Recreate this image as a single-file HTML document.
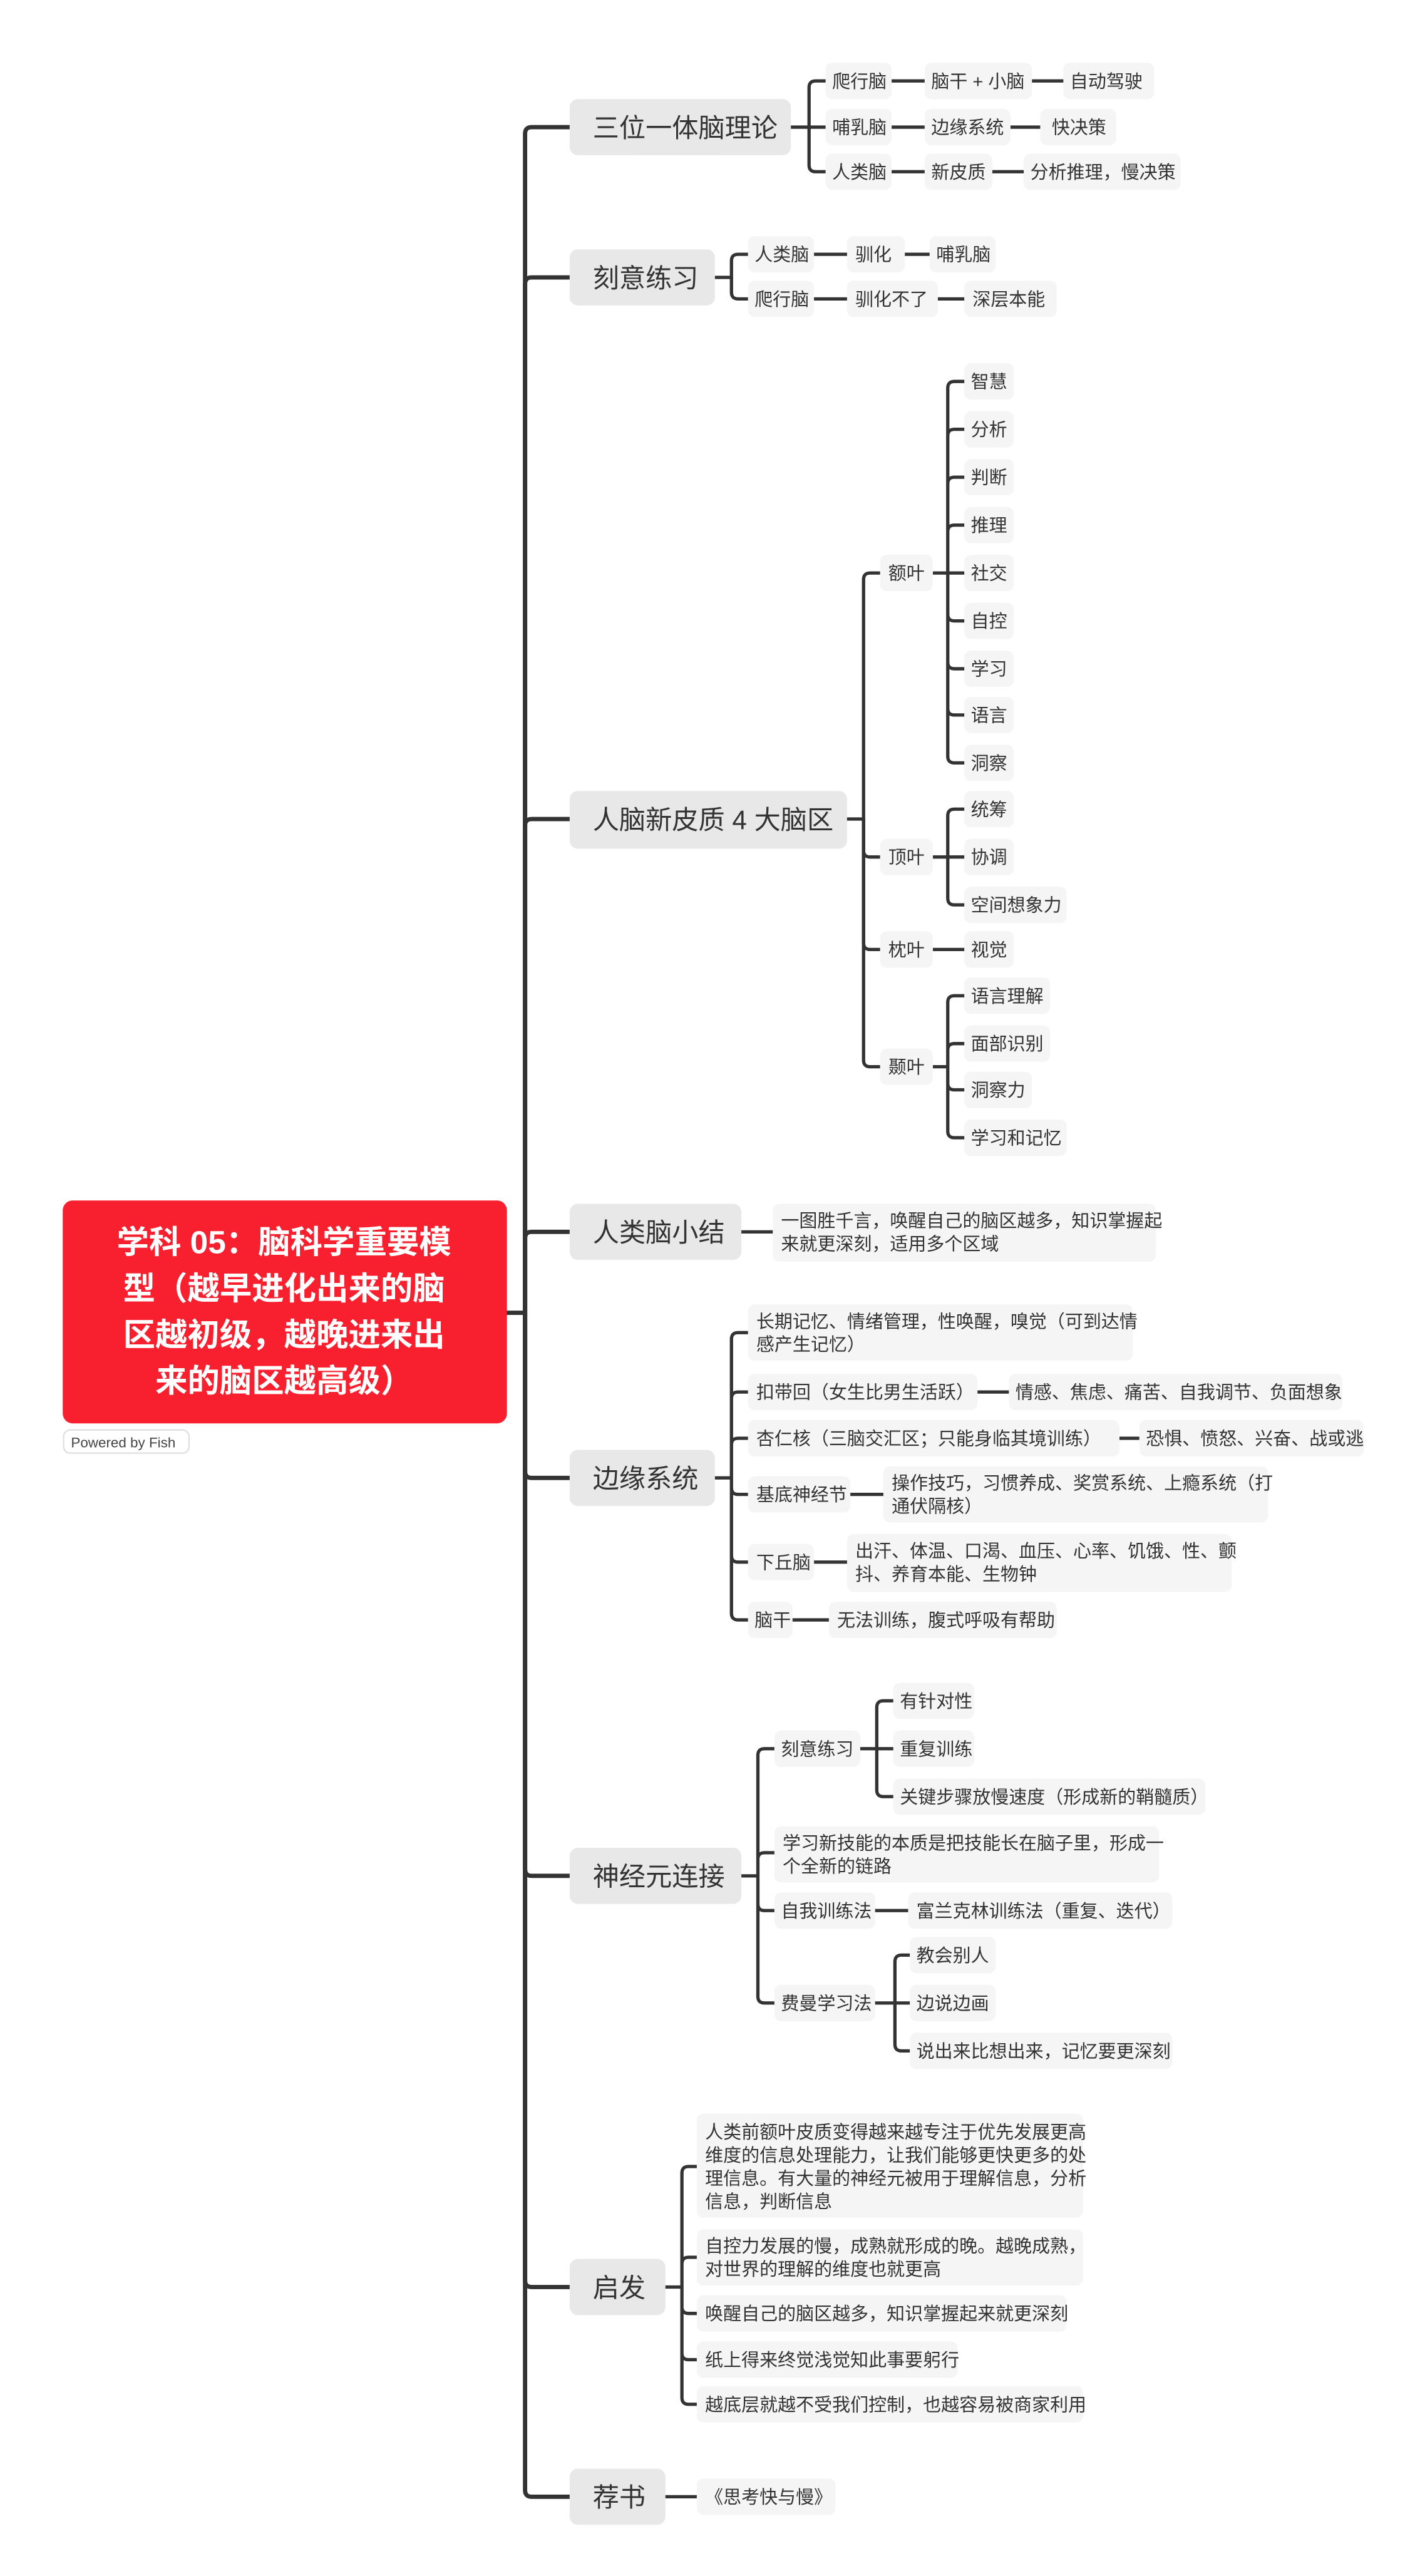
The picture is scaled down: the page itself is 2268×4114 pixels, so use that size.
<!DOCTYPE html>
<html><head><meta charset="utf-8"><style>
html,body{margin:0;padding:0;background:#fff;width:2268px;height:4114px;overflow:hidden}
svg{display:block}
text{font-family:"Liberation Sans","Noto Sans CJK SC",sans-serif;fill:#333}
.s{font-size:11px}
.m{font-size:16px}
.sub{fill:#f5f5f5}
.main{fill:#e8e8e8}
path{fill:none;stroke:#333;stroke-width:2;stroke-linecap:round}
.t{stroke-width:2.6}
</style></head><body>
<svg width="2268" height="4114" viewBox="0 0 860 1560">
<!-- trunk -->
<g class="tr">
<path class="t" d="M307,795 H318"/>
<path class="t" d="M318,795 V81 Q318,77 322,77 H345"/>
<path class="t" d="M318,795 V172 Q318,168 322,168 H345"/>
<path class="t" d="M318,795 V500 Q318,496 322,496 H345"/>
<path class="t" d="M318,795 V750 Q318,746 322,746 H345"/>
<path class="t" d="M318,795 V891 Q318,895 322,895 H345"/>
<path class="t" d="M318,795 V1132 Q318,1136 322,1136 H345"/>
<path class="t" d="M318,795 V1381 Q318,1385 322,1385 H345"/>
<path class="t" d="M318,795 V1508 Q318,1512 322,1512 H345"/>
</g>
<!-- group1 -->
<path d="M479,77 H490 V53 Q490,49 494,49 H500"/>
<path d="M490,77 H500"/>
<path d="M490,77 V100 Q490,104 494,104 H500"/>
<path d="M540,49 H560 M625,49 H644 M540,77 H560 M612,77 H630 M540,104 H560 M601,104 H620"/>
<!-- group2 -->
<path d="M433,168 H443 V158 Q443,154 447,154 H453"/>
<path d="M443,168 V177 Q443,181 447,181 H453"/>
<path d="M493,154 H513 M548,154 H563 M493,181 H513 M568,181 H584"/>
<!-- group3 -->
<path d="M513,496 H523 V351 Q523,347 527,347 H533"/>
<path d="M523,496 V515 Q523,519 527,519 H533"/>
<path d="M523,496 V571 Q523,575 527,575 H533"/>
<path d="M523,496 V642 Q523,646 527,646 H533"/>
<path d="M565,347 H574 V235 Q574,231 578,231 H584 M574,347 V264 Q574,260 578,260 H584 M574,347 V293 Q574,289 578,289 H584 M574,347 V322 Q574,318 578,318 H584 M574,347 H584 M574,347 V372 Q574,376 578,376 H584 M574,347 V401 Q574,405 578,405 H584 M574,347 V429 Q574,433 578,433 H584 M574,347 V458 Q574,462 578,462 H584"/>
<path d="M565,519 H574 V494 Q574,490 578,490 H584 M574,519 H584 M574,519 V544 Q574,548 578,548 H584"/>
<path d="M565,575 H584"/>
<path d="M565,646 H574 V607 Q574,603 578,603 H584 M574,646 V636 Q574,632 578,632 H584 M574,646 V656 Q574,660 578,660 H584 M574,646 V685 Q574,689 578,689 H584"/>
<!-- group4 -->
<path d="M449,746 H468"/>
<!-- group5 -->
<path d="M433,895 H443 V811 Q443,807 447,807 H453 M443,895 V847 Q443,843 447,843 H453 M443,895 V875 Q443,871 447,871 H453 M443,895 V901 Q443,905 447,905 H453 M443,895 V942 Q443,946 447,946 H453 M443,895 V977 Q443,981 447,981 H453"/>
<path d="M592,843 H611 M678,871 H690 M515,905 H535 M493,946 H513 M480,981 H502"/>
<!-- group6 -->
<path d="M449,1136 H459 V1063 Q459,1059 463,1059 H469 M459,1136 V1126 Q459,1122 463,1122 H469 M459,1136 V1153 Q459,1157 463,1157 H469 M459,1136 V1209 Q459,1213 463,1213 H469"/>
<path d="M521,1059 H531 V1034 Q531,1030 535,1030 H541 M531,1059 H541 M531,1059 V1084 Q531,1088 535,1088 H541"/>
<path d="M530,1157 H550"/>
<path d="M530,1213 H542 V1188 Q542,1184 546,1184 H551 M542,1213 H551 M542,1213 V1238 Q542,1242 546,1242 H551"/>
<!-- group7 -->
<path d="M403,1385 H413 V1316 Q413,1312 417,1312 H422 M413,1385 V1371 Q413,1367 417,1367 H422 M413,1385 V1397 Q413,1401 417,1401 H422 M413,1385 V1425 Q413,1429 417,1429 H422 M413,1385 V1452 Q413,1456 417,1456 H422"/>
<path d="M403,1512 H422"/>

<!-- root -->
<rect x="38" y="727" width="269" height="135" rx="6" fill="#f8202e"/>
<g style="font-size:19.5px;font-weight:bold" text-anchor="middle">
<text x="172" y="759" style="fill:#fff">学科 05：脑科学重要模</text>
<text x="172" y="787" style="fill:#fff">型（越早进化出来的脑</text>
<text x="172" y="815" style="fill:#fff">区越初级，越晚进来出</text>
<text x="172" y="843" style="fill:#fff">来的脑区越高级）</text>
</g>
<rect x="38.5" y="866" width="76" height="14" rx="4" fill="#fff" stroke="#ddd" stroke-width="0.8"/>
<text x="43" y="876.5" style="font-size:8.5px;fill:#444">Powered by Fish</text>

<!-- main nodes -->
<g class="m">
<rect class="main" x="345" y="60" width="134" height="34" rx="5"/><text class="m" x="359" y="83">三位一体脑理论</text>
<rect class="main" x="345" y="151" width="88" height="34" rx="5"/><text class="m" x="359" y="174">刻意练习</text>
<rect class="main" x="345" y="479" width="168" height="35" rx="5"/><text class="m" x="359" y="502">人脑新皮质 4 大脑区</text>
<rect class="main" x="345" y="729" width="104" height="34" rx="5"/><text class="m" x="359" y="752">人类脑小结</text>
<rect class="main" x="345" y="878" width="88" height="34" rx="5"/><text class="m" x="359" y="901">边缘系统</text>
<rect class="main" x="345" y="1119" width="104" height="34" rx="5"/><text class="m" x="359" y="1142">神经元连接</text>
<rect class="main" x="345" y="1368" width="58" height="34" rx="5"/><text class="m" x="359" y="1391">启发</text>
<rect class="main" x="345" y="1495" width="58" height="34" rx="5"/><text class="m" x="359" y="1518">荐书</text>
</g>

<!-- sub nodes: helper layout h=22 -->
<g class="s">
<!-- g1 -->
<rect class="sub" x="500" y="38" width="40" height="22" rx="4"/><text class="s" x="504" y="53">爬行脑</text>
<rect class="sub" x="560" y="38" width="65" height="22" rx="4"/><text class="s" x="564" y="53">脑干 + 小脑</text>
<rect class="sub" x="644" y="38" width="55" height="22" rx="4"/><text class="s" x="648" y="53">自动驾驶</text>
<rect class="sub" x="500" y="66" width="40" height="22" rx="4"/><text class="s" x="504" y="81">哺乳脑</text>
<rect class="sub" x="560" y="66" width="52" height="22" rx="4"/><text class="s" x="564" y="81">边缘系统</text>
<rect class="sub" x="630" y="66" width="46" height="22" rx="4"/><text class="s" x="637" y="81">快决策</text>
<rect class="sub" x="500" y="93" width="40" height="22" rx="4"/><text class="s" x="504" y="108">人类脑</text>
<rect class="sub" x="560" y="93" width="41" height="22" rx="4"/><text class="s" x="564" y="108">新皮质</text>
<rect class="sub" x="620" y="93" width="95" height="22" rx="4"/><text class="s" x="624" y="108">分析推理，慢决策</text>
<!-- g2 -->
<rect class="sub" x="453" y="143" width="40" height="22" rx="4"/><text class="s" x="457" y="158">人类脑</text>
<rect class="sub" x="513" y="143" width="35" height="22" rx="4"/><text class="s" x="518" y="158">驯化</text>
<rect class="sub" x="563" y="143" width="40" height="22" rx="4"/><text class="s" x="567" y="158">哺乳脑</text>
<rect class="sub" x="453" y="170" width="40" height="22" rx="4"/><text class="s" x="457" y="185">爬行脑</text>
<rect class="sub" x="513" y="170" width="55" height="22" rx="4"/><text class="s" x="518" y="185">驯化不了</text>
<rect class="sub" x="584" y="170" width="56" height="22" rx="4"/><text class="s" x="589" y="185">深层本能</text>
<!-- g3 -->
<rect class="sub" x="533" y="336" width="32" height="22" rx="4"/><text class="s" x="538" y="351">额叶</text>
<rect class="sub" x="533" y="508" width="32" height="22" rx="4"/><text class="s" x="538" y="523">顶叶</text>
<rect class="sub" x="533" y="564" width="32" height="22" rx="4"/><text class="s" x="538" y="579">枕叶</text>
<rect class="sub" x="533" y="635" width="32" height="22" rx="4"/><text class="s" x="538" y="650">颞叶</text>
<rect class="sub" x="584" y="220" width="30" height="22" rx="4"/><text class="s" x="588" y="235">智慧</text>
<rect class="sub" x="584" y="249" width="30" height="22" rx="4"/><text class="s" x="588" y="264">分析</text>
<rect class="sub" x="584" y="278" width="30" height="22" rx="4"/><text class="s" x="588" y="293">判断</text>
<rect class="sub" x="584" y="307" width="30" height="22" rx="4"/><text class="s" x="588" y="322">推理</text>
<rect class="sub" x="584" y="336" width="30" height="22" rx="4"/><text class="s" x="588" y="351">社交</text>
<rect class="sub" x="584" y="365" width="30" height="22" rx="4"/><text class="s" x="588" y="380">自控</text>
<rect class="sub" x="584" y="394" width="30" height="22" rx="4"/><text class="s" x="588" y="409">学习</text>
<rect class="sub" x="584" y="422" width="30" height="22" rx="4"/><text class="s" x="588" y="437">语言</text>
<rect class="sub" x="584" y="451" width="30" height="22" rx="4"/><text class="s" x="588" y="466">洞察</text>
<rect class="sub" x="584" y="479" width="30" height="22" rx="4"/><text class="s" x="588" y="494">统筹</text>
<rect class="sub" x="584" y="508" width="30" height="22" rx="4"/><text class="s" x="588" y="523">协调</text>
<rect class="sub" x="584" y="537" width="62" height="22" rx="4"/><text class="s" x="588" y="552">空间想象力</text>
<rect class="sub" x="584" y="564" width="30" height="22" rx="4"/><text class="s" x="588" y="579">视觉</text>
<rect class="sub" x="584" y="592" width="52" height="22" rx="4"/><text class="s" x="588" y="607">语言理解</text>
<rect class="sub" x="584" y="621" width="52" height="22" rx="4"/><text class="s" x="588" y="636">面部识别</text>
<rect class="sub" x="584" y="649" width="41" height="22" rx="4"/><text class="s" x="588" y="664">洞察力</text>
<rect class="sub" x="584" y="678" width="62" height="22" rx="4"/><text class="s" x="588" y="693">学习和记忆</text>
<!-- g4 -->
<rect class="sub" x="468" y="729" width="232" height="35" rx="4"/>
<text class="s" x="473" y="743">一图胜千言，唤醒自己的脑区越多，知识掌握起</text>
<text class="s" x="473" y="757">来就更深刻，适用多个区域</text>
<!-- g5 -->
<rect class="sub" x="453" y="790" width="233" height="34" rx="4"/>
<text class="s" x="458" y="804">长期记忆、情绪管理，性唤醒，嗅觉（可到达情</text>
<text class="s" x="458" y="818">感产生记忆）</text>
<rect class="sub" x="453" y="832" width="139" height="22" rx="4"/><text class="s" x="458" y="847">扣带回（女生比男生活跃）</text>
<rect class="sub" x="611" y="832" width="202" height="22" rx="4"/><text class="s" x="615" y="847">情感、焦虑、痛苦、自我调节、负面想象</text>
<rect class="sub" x="453" y="860" width="225" height="22" rx="4"/><text class="s" x="458" y="875">杏仁核（三脑交汇区；只能身临其境训练）</text>
<rect class="sub" x="690" y="860" width="136" height="22" rx="4"/><text class="s" x="694" y="875">恐惧、愤怒、兴奋、战或逃</text>
<rect class="sub" x="453" y="894" width="62" height="22" rx="4"/><text class="s" x="458" y="909">基底神经节</text>
<rect class="sub" x="535" y="888" width="233" height="34" rx="4"/>
<text class="s" x="540" y="902">操作技巧，习惯养成、奖赏系统、上瘾系统（打</text>
<text class="s" x="540" y="916">通伏隔核）</text>
<rect class="sub" x="453" y="935" width="40" height="22" rx="4"/><text class="s" x="458" y="950">下丘脑</text>
<rect class="sub" x="513" y="929" width="233" height="35" rx="4"/>
<text class="s" x="518" y="943">出汗、体温、口渴、血压、心率、饥饿、性、颤</text>
<text class="s" x="518" y="957">抖、养育本能、生物钟</text>
<rect class="sub" x="453" y="970" width="27" height="22" rx="4"/><text class="s" x="457" y="985">脑干</text>
<rect class="sub" x="502" y="970" width="138" height="22" rx="4"/><text class="s" x="507" y="985">无法训练，腹式呼吸有帮助</text>
<!-- g6 -->
<rect class="sub" x="469" y="1048" width="52" height="22" rx="4"/><text class="s" x="473" y="1063">刻意练习</text>
<rect class="sub" x="541" y="1019" width="49" height="22" rx="4"/><text class="s" x="545" y="1034">有针对性</text>
<rect class="sub" x="541" y="1048" width="49" height="22" rx="4"/><text class="s" x="545" y="1063">重复训练</text>
<rect class="sub" x="541" y="1077" width="189" height="22" rx="4"/><text class="s" x="545" y="1092">关键步骤放慢速度（形成新的鞘髓质）</text>
<rect class="sub" x="469" y="1106" width="233" height="34" rx="4"/>
<text class="s" x="474" y="1120">学习新技能的本质是把技能长在脑子里，形成一</text>
<text class="s" x="474" y="1134">个全新的链路</text>
<rect class="sub" x="469" y="1146" width="61" height="22" rx="4"/><text class="s" x="473" y="1161">自我训练法</text>
<rect class="sub" x="550" y="1146" width="160" height="22" rx="4"/><text class="s" x="555" y="1161">富兰克林训练法（重复、迭代）</text>
<rect class="sub" x="469" y="1202" width="61" height="22" rx="4"/><text class="s" x="473" y="1217">费曼学习法</text>
<rect class="sub" x="551" y="1173" width="52" height="22" rx="4"/><text class="s" x="555" y="1188">教会别人</text>
<rect class="sub" x="551" y="1202" width="52" height="22" rx="4"/><text class="s" x="555" y="1217">边说边画</text>
<rect class="sub" x="551" y="1231" width="159" height="22" rx="4"/><text class="s" x="555" y="1246">说出来比想出来，记忆要更深刻</text>
<!-- g7 -->
<rect class="sub" x="422" y="1280" width="234" height="63" rx="4"/>
<text class="s" x="427" y="1295">人类前额叶皮质变得越来越专注于优先发展更高</text>
<text class="s" x="427" y="1309">维度的信息处理能力，让我们能够更快更多的处</text>
<text class="s" x="427" y="1323">理信息。有大量的神经元被用于理解信息，分析</text>
<text class="s" x="427" y="1337">信息，判断信息</text>
<rect class="sub" x="422" y="1350" width="234" height="34" rx="4"/>
<text class="s" x="427" y="1364">自控力发展的慢，成熟就形成的晚。越晚成熟，</text>
<text class="s" x="427" y="1378">对世界的理解的维度也就更高</text>
<rect class="sub" x="422" y="1390" width="224" height="22" rx="4"/><text class="s" x="427" y="1405">唤醒自己的脑区越多，知识掌握起来就更深刻</text>
<rect class="sub" x="422" y="1418" width="158" height="22" rx="4"/><text class="s" x="427" y="1433">纸上得来终觉浅觉知此事要躬行</text>
<rect class="sub" x="422" y="1445" width="234" height="22" rx="4"/><text class="s" x="427" y="1460">越底层就越不受我们控制，也越容易被商家利用</text>
<!-- g8 -->
<rect class="sub" x="422" y="1501" width="84" height="22" rx="4"/><text class="s" x="427" y="1516">《思考快与慢》</text>
</g>
</svg>
</body></html>
